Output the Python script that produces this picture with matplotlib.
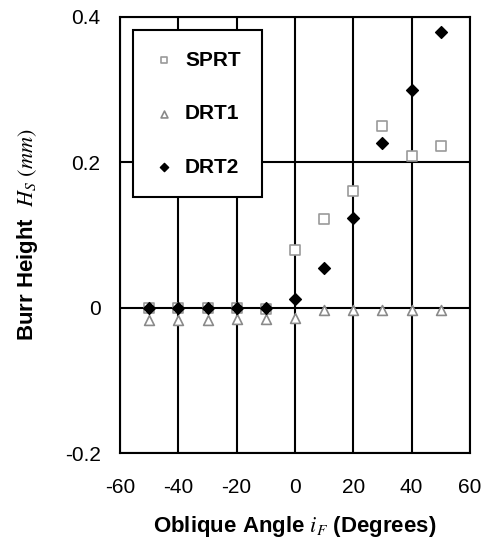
import matplotlib
matplotlib.use("Agg")
import matplotlib.pyplot as plt
import numpy as np

plt.rcParams['font.family'] = ['Liberation Sans', 'DejaVu Sans']
plt.rcParams['mathtext.fontset'] = 'stix'
plt.rcParams['axes.unicode_minus'] = False

angles = [-50, -40, -30, -20, -10, 0, 10, 20, 30, 40, 50]
sprt = [0.0, 0.0, 0.0, 0.0, -0.002, 0.08, 0.122, 0.16, 0.25, 0.209, 0.223]
drt1 = [-0.017, -0.017, -0.017, -0.016, -0.016, -0.014, -0.003, -0.003, -0.003, -0.003, -0.003]
drt2 = [0.0, 0.0, 0.0, 0.0, 0.0, 0.012, 0.055, 0.124, 0.227, 0.30, 0.38]

xticks = [-60, -40, -20, 0, 20, 40, 60]
yticks = [-0.2, 0, 0.2, 0.4]
ytick_labels = ['-0.2', '0', '0.2', '0.4']

fig = plt.figure(figsize=(4.86, 5.48), dpi=100)
ax = fig.add_axes([0.247, 0.173, 0.720, 0.796])

ax.scatter(angles, sprt, marker='s', s=45, facecolors='white', edgecolors='#9a9a9a',
           linewidths=1.2, zorder=3, label='SPRT')
ax.scatter(angles, drt1, marker='^', s=50, facecolors='white', edgecolors='#8a8a8a',
           linewidths=1.2, zorder=3, label='DRT1')
ax.scatter(angles, drt2, marker='D', s=36, color='black', zorder=4, label='DRT2')

ax.set_xlim(-60, 60)
ax.set_ylim(-0.2, 0.4)
ax.set_xticks(xticks)
ax.set_yticks(yticks)
ax.set_yticklabels(ytick_labels)
ax.grid(True, color='black', linewidth=1.5)
for s in ax.spines.values():
    s.set_linewidth(1.5)
ax.tick_params(length=0, labelsize=15)
ax.tick_params(axis='x', pad=18)
ax.tick_params(axis='y', pad=14)

ax.set_xlabel(r'Oblique Angle $i_F$ (Degrees)', fontsize=16, fontweight='bold', labelpad=12)
ax.set_ylabel(r'Burr Height  $H_S\ (mm)$', fontsize=16, fontweight='bold', labelpad=18)

leg = ax.legend(loc='upper left', bbox_to_anchor=(0.037, 0.97), fontsize=15, frameon=True,
                fancybox=False, edgecolor='black', framealpha=1, labelspacing=1.65,
                borderpad=1.0, handlelength=1.0, handletextpad=0.5, scatterpoints=1,
                borderaxespad=0, markerscale=0.7)
leg.get_frame().set_linewidth(1.5)
for t in leg.get_texts():
    t.set_fontweight('bold')
leg.set_zorder(5)

fig.savefig('out.png', dpi=100)
